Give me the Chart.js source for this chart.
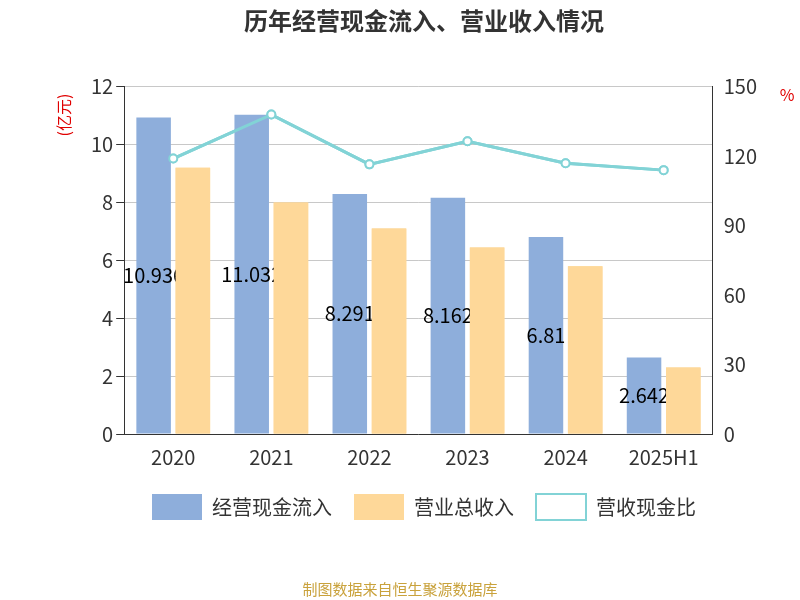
<!DOCTYPE html>
<html>
<head>
<meta charset="utf-8">
<script src="https://cdn.jsdelivr.net/npm/chart.js@4"></script>
<style>
  body { margin: 0; background: #fff; }
  #wrap { width: 800px; height: 600px; position: relative; }
  #source { position: absolute; left: 0; width: 800px; top: 578px; text-align: center;
    font: 15px "Noto Sans CJK SC", sans-serif; color: #c9a23c; }
</style>
</head>
<body>
<div id="wrap">
  <canvas id="mainChart" width="800" height="600"></canvas>
  <div id="source">制图数据来自恒生聚源数据库</div>
</div>
<script>
var years = ['2020', '2021', '2022', '2023', '2024', '2025H1'];
var cashIn = [10.936, 11.032, 8.291, 8.162, 6.81, 2.642];
var revenue = [9.2, 8.0, 7.1, 6.45, 5.8, 2.3];
var ratio = [119, 138, 116.5, 126.5, 117, 114];

var font = '"Noto Sans CJK SC", sans-serif';

// Labels on the blue bars, then the orange bars and the line are drawn again over them
var barLabels = {
    id: 'barLabels',
    beforeInit: function(chart) {
        var legend = chart.legend;
        if (!legend) return;
        var origFit = legend.fit;
        legend.fit = function() {
            origFit.call(this);
            this.height += 30;
        };
    },
    afterDatasetsDraw: function(chart) {
        var ctx = chart.ctx;
        var meta = chart.getDatasetMeta(0);
        ctx.save();
        ctx.font = '20px ' + font;
        ctx.fillStyle = '#000';
        ctx.textAlign = 'center';
        ctx.textBaseline = 'middle';
        meta.data.forEach(function(bar, i) {
            ctx.fillText(String(cashIn[i]), bar.x, (bar.y + bar.base) / 2);
        });
        ctx.restore();
        var area = chart.chartArea;
        ctx.save();
        ctx.beginPath();
        ctx.rect(area.left, area.top - 10, area.right - area.left, area.bottom - area.top + 10);
        ctx.clip();
        chart.getDatasetMeta(1).data.forEach(function(bar) { bar.draw(ctx); });
        chart.getDatasetMeta(2).controller.draw();
        ctx.restore();
    },
    afterDraw: function(chart) {
        var ctx = chart.ctx;
        ctx.save();
        ctx.fillStyle = '#e00000';
        ctx.font = '16px ' + font;
        ctx.textAlign = 'center';
        ctx.fillText('%', 787, 95);
        ctx.translate(64, 115);
        ctx.rotate(-Math.PI / 2);
        ctx.textBaseline = 'middle';
        ctx.fillText('(亿元)', 0, 0);
        ctx.restore();
    }
};

Chart.defaults.font.family = font;

new Chart(document.getElementById('mainChart').getContext('2d'), {
    type: 'bar',
    data: {
        labels: years,
        datasets: [
            {
                label: '经营现金流入',
                data: cashIn,
                backgroundColor: '#8eaedb',
                yAxisID: 'y',
                barPercentage: 0.88,
                categoryPercentage: 0.8
            }, {
                label: '营业总收入',
                data: revenue,
                backgroundColor: '#fed899',
                yAxisID: 'y',
                barPercentage: 0.88,
                categoryPercentage: 0.8
            }, {
                type: 'line',
                label: '营收现金比',
                data: ratio,
                borderColor: '#82d3d6',
                backgroundColor: '#fff',
                borderWidth: 3,
                pointRadius: 4,
                pointBorderWidth: 2,
                yAxisID: 'y1'
            }]
    },
    options: {
        responsive: false,
        animation: false,
        layout: { padding: { left: 88, right: 40, top: 0, bottom: 40 } },
        plugins: {
            title: {
                display: true,
                text: '历年经营现金流入、营业收入情况',
                font: { size: 24, weight: 'bold' },
                color: '#333',
                padding: { top: 6, bottom: 52 }
            },
            legend: {
                position: 'bottom',
                labels: {
                    font: { size: 20 },
                    color: '#333',
                    padding: 22,
                    boxWidth: 50,
                    boxHeight: 26,
                    generateLabels: function(chart) {
                        var items = Chart.defaults.plugins.legend.labels.generateLabels(chart);
                        items.forEach(function(it) { it.lineWidth = 0; it.strokeStyle = 'transparent'; });
                        items[2].lineWidth = 2;
                        items[2].strokeStyle = '#82d3d6';
                        items[2].fillStyle = '#fff';
                        return items;
                    }
                }
            },
            tooltip: { enabled: false }
        },
        scales: {
            x: {
                grid: { display: false },
                border: { color: '#333', width: 1 },
                ticks: { font: { size: 20 }, color: '#333' }
            },
            y: {
                position: 'left',
                min: 0, max: 12,
                ticks: { stepSize: 2, font: { size: 20 }, color: '#333' },
                grid: { color: '#c8c8c8', tickColor: '#333' },
                border: { color: '#333' }
            },
            y1: {
                position: 'right',
                min: 0, max: 150,
                ticks: { stepSize: 30, font: { size: 20 }, color: '#333' },
                grid: { display: false, tickColor: '#333' },
                border: { color: '#333' }
            }
        }
    },
    plugins: [barLabels]
});
</script>
</body>
</html>
